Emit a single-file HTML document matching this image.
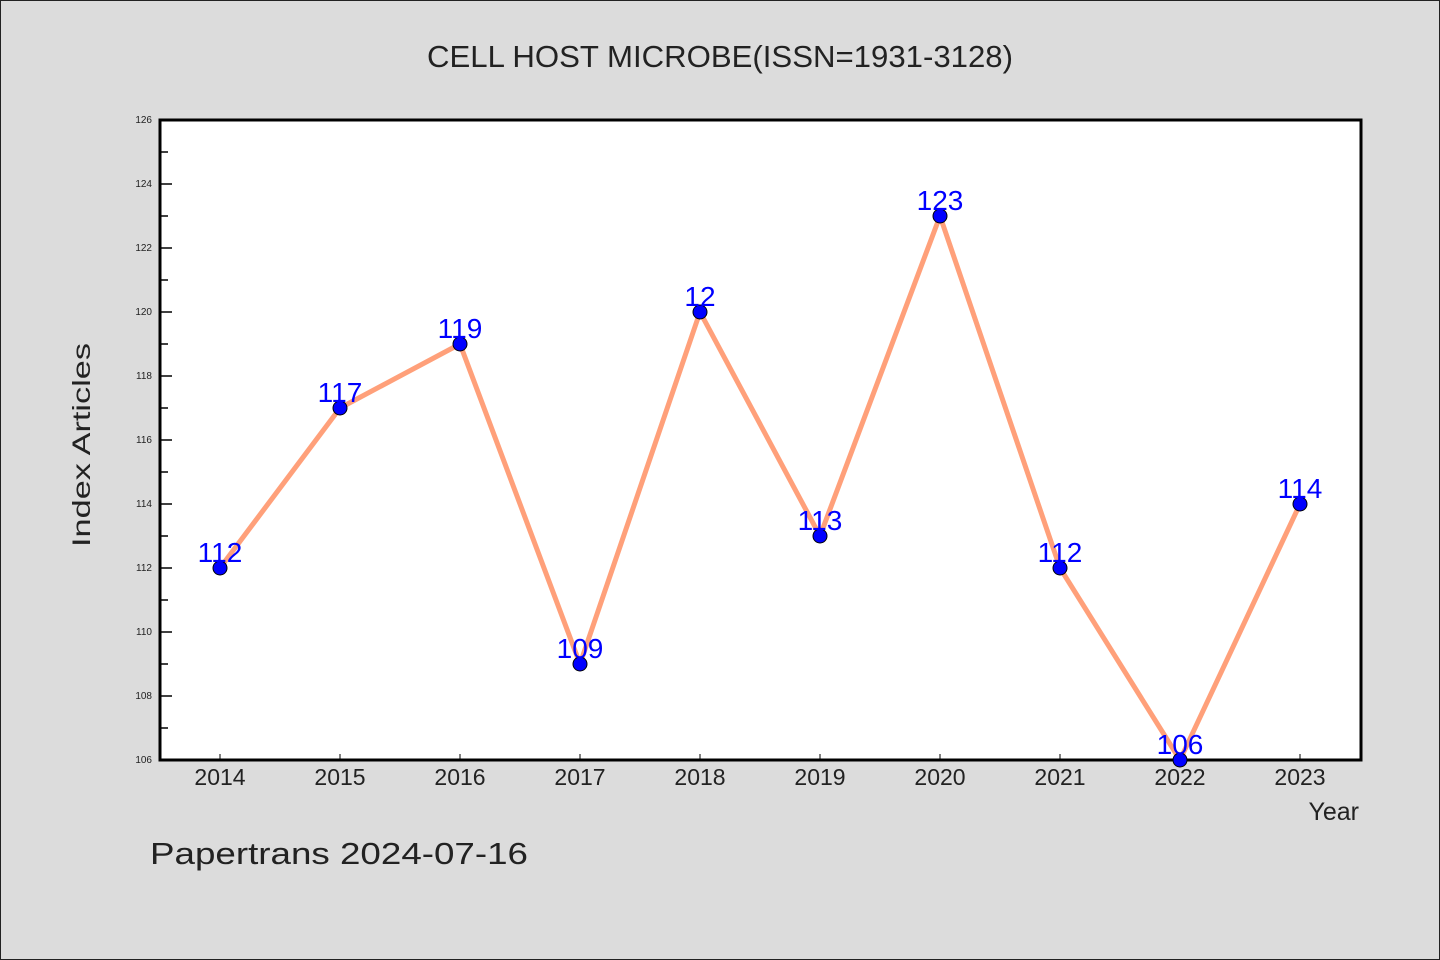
<!DOCTYPE html>
<html><head><meta charset="utf-8"><style>
html,body{margin:0;padding:0;background:#dcdcdc;}
svg{display:block;font-family:"WenQuanYi Zen Hei","Liberation Sans",sans-serif;}
</style></head><body>
<svg id="chart" width="1440" height="960" xmlns="http://www.w3.org/2000/svg">
<rect x="0.5" y="0.5" width="1439" height="959" fill="#dcdcdc" stroke="#222"/>
<text x="720" y="67" text-anchor="middle" font-size="31" fill="#222" textLength="586" lengthAdjust="spacingAndGlyphs">CELL HOST MICROBE(ISSN=1931-3128)</text>
<rect x="160" y="120" width="1201" height="640" fill="#fff"/>
<g id="yticks"></g><g id="xticks"></g>
<rect x="160" y="120" width="1201" height="640" fill="none" stroke="#000" stroke-width="3"/>
<g id="series"></g>
<text transform="translate(90,445) rotate(-90)" text-anchor="middle" font-size="25" fill="#222" textLength="204" lengthAdjust="spacingAndGlyphs">Index Articles</text>
<text x="1359" y="820" text-anchor="end" font-size="25" fill="#222">Year</text>
<text x="150" y="864" font-size="31" fill="#222" textLength="378" lengthAdjust="spacingAndGlyphs">Papertrans 2024-07-16</text>
</svg>
<script>
const years = [2014,2015,2016,2017,2018,2019,2020,2021,2022,2023];
const articles = [112,117,119,109,120,113,123,112,106,114];
const pointLabels = ["112","117","119","109","12","113","123","112","106","114"];
const yTicks = [106,108,110,112,114,116,118,120,122,124,126];
const NS="http://www.w3.org/2000/svg";
const x = i => 220 + i*120;
const y = v => 760 - (v-106)*32;
function mk(tag, attrs, parent){const e=document.createElementNS(NS,tag);for(const k in attrs)e.setAttribute(k,attrs[k]);parent.appendChild(e);return e;}
const yt=document.getElementById('yticks'), xt=document.getElementById('xticks'), s=document.getElementById('series');
for(let v=106; v<=126; v++){
  const major = yTicks.includes(v);
  const t = mk('line',{x1:160,x2:major?172:168,y1:y(v),y2:y(v),stroke:'#000','stroke-width':1.5},yt);
  
  
}
yTicks.forEach(v=>{
  const t = mk('text',{x:152,y:y(v)+3,'text-anchor':'end','font-size':10,fill:'#222'},yt);
  t.textContent=v;
  
  
});
years.forEach((yr,i)=>{
  const t = mk('line',{x1:x(i),x2:x(i),y1:760,y2:754,stroke:'#000','stroke-width':1},xt);
  
  
  const l = mk('text',{x:x(i),y:785,'text-anchor':'middle','font-size':23,fill:'#222'},xt);
  l.textContent=yr;
  
  
});
const pl = mk('polyline',{points:articles.map((v,i)=>x(i)+','+y(v)).join(' '),fill:'none',stroke:'#ffa07a','stroke-width':5,'stroke-linejoin':'round'},s);


articles.forEach((v,i)=>{
  const c = mk('circle',{cx:x(i),cy:y(v),r:7,fill:'#0000ff',stroke:'#000','stroke-width':1},s);
  
  
});
articles.forEach((v,i)=>{
  const t = mk('text',{x:x(i),y:y(v)-6,'text-anchor':'middle','font-size':28,fill:'#0000ff'},s);
  t.textContent=pointLabels[i];
  
  
});
</script>
</body></html>
